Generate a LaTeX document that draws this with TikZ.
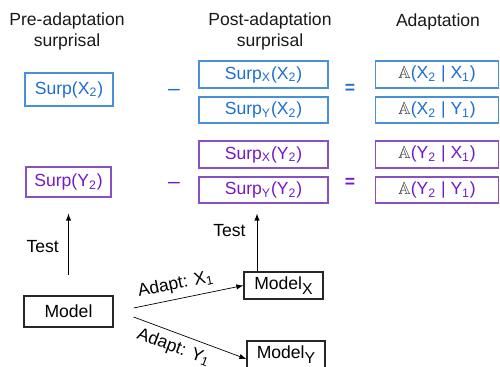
\documentclass[tikz,border=0pt]{standalone}
\usepackage{amssymb}
\usepackage{fontspec}
\setmainfont{Liberation Sans}
\usetikzlibrary{calc}
\definecolor{surpblue}{RGB}{28,110,210}
\definecolor{lineblue}{RGB}{74,144,217}
\definecolor{surppurple}{RGB}{115,25,200}
\definecolor{linepurple}{RGB}{135,80,195}
\definecolor{headgray}{RGB}{25,25,25}
\newcommand{\subsc}[1]{\textsubscript{#1}}
\newcommand{\dsA}{\textcolor{black!75}{$\mathbb{A}$}}
\tikzset{
  bluebox/.style={draw=lineblue, line width=0.7pt, text=surpblue, inner sep=0pt, minimum height=0.54cm},
  purplebox/.style={draw=linepurple, line width=0.7pt, text=surppurple, inner sep=0pt, minimum height=0.54cm},
  modelbox/.style={draw=black!85, line width=0.7pt, inner sep=0pt, minimum height=0.54cm},
  header/.style={text=headgray, align=center},
}

\begin{document}
\begin{tikzpicture}[x=0.02cm, y=0.02cm, >=latex, font=\fontsize{10}{12}\selectfont]
\useasboundingbox (0,0) rectangle (500,367);

% Headers
\node [header] (hpre) at (67,335.5) {Pre-adaptation\\surprisal};
\node [header] (hpost) at (270,335.5) {Post-adaptation\\surprisal};
\node [header] (hadapt) at (438,345) {Adaptation};

% Pre-adaptation surprisal
\node [bluebox, minimum width=1.76cm, minimum height=0.66cm] (preX) at (69,277.5) {Surp(X\subsc{2})};
\node [purplebox, minimum width=1.70cm, minimum height=0.60cm] (preY) at (68.5,185) {Surp(Y\subsc{2})};

% Minus signs
\node [text=surpblue, font=\large] (minX) at (174,275) {--};
\node [text=surppurple, font=\large] (minY) at (174,182) {--};

% Post-adaptation surprisal
\node [bluebox, minimum width=2.58cm] (postXX) at (263.5,292.5) {Surp\subsc{X}(X\subsc{2})};
\node [bluebox, minimum width=2.58cm, minimum height=0.52cm] (postYX) at (263.5,257) {Surp\subsc{Y}(X\subsc{2})};
\node [purplebox, minimum width=2.58cm] (postXY) at (263.5,212.5) {Surp\subsc{X}(Y\subsc{2})};
\node [purplebox, minimum width=2.58cm, minimum height=0.52cm] (postYY) at (263.5,177) {Surp\subsc{Y}(Y\subsc{2})};

% Equals signs
\node [text=surpblue] (eqX) at (350,278) {\textbf{=}};
\node [text=surppurple] (eqY) at (350,184) {\textbf{=}};

% Adaptation
\node [bluebox, minimum width=2.46cm] (adXX) at (437,292.5) {\dsA(X\subsc{2} | X\subsc{1})};
\node [bluebox, minimum width=2.46cm, minimum height=0.52cm] (adXY) at (437,257) {\dsA(X\subsc{2} | Y\subsc{1})};
\node [purplebox, minimum width=2.46cm] (adYX) at (437,212.5) {\dsA(Y\subsc{2} | X\subsc{1})};
\node [purplebox, minimum width=2.46cm, minimum height=0.52cm] (adYY) at (437,177) {\dsA(Y\subsc{2} | Y\subsc{1})};

% Models
\node [modelbox, minimum width=1.78cm, minimum height=0.62cm] (model) at (68.5,55.5) {Model};
\node [modelbox, minimum width=1.58cm] (modelX) at (283.5,81.5) {Model\raisebox{-2.5pt}{\small X}};
\node [modelbox, minimum width=1.56cm] (modelY) at (286,12.5) {Model\raisebox{-2.5pt}{\small Y}};

% Test arrows
\draw [->, shorten <=0.4cm, shorten >=0.32cm] (model.north) -- (preY.south) node [midway, left=2pt] {Test};
\coordinate (tx) at ([xshift=-0.53cm]modelX.north);
\draw [->, shorten >=0.2cm] (tx) -- (tx |- postYY.south) node [pos=0.6, left=3pt] {Test};

% Adapt arrows
\draw [->] ([shift={(0.4cm,0.07cm)}]model.east) -- (modelX.west) node [pos=0.41, sloped, above] {Adapt: X\subsc{1}};
\draw [->] ([shift={(0.4cm,-0.11cm)}]model.east) -- ([yshift=-0.09cm]modelY.west) node [pos=0.4, sloped, below] {Adapt: Y\subsc{1}};
\end{tikzpicture}
\end{document}
